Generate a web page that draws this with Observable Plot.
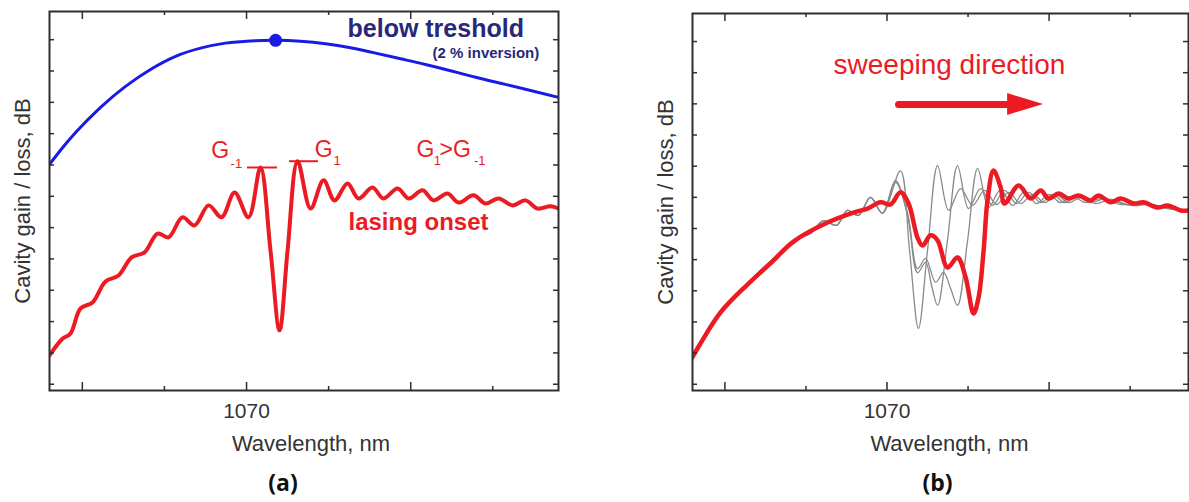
<!DOCTYPE html>
<html>
<head>
<meta charset="utf-8">
<script src="https://cdn.jsdelivr.net/npm/d3@7"></script>
<script src="https://cdn.jsdelivr.net/npm/@observablehq/plot@0.6"></script>
<style>
  html, body { margin: 0; padding: 0; background: #fff; overflow: hidden; }
  #page { position: relative; width: 1189px; height: 502px; overflow: hidden; }
  .panel { position: absolute; top: 0; width: 600px; height: 502px; }
</style>
</head>
<body>
<div id="page">
  <div id="panelA" class="panel" style="left:0"></div>
  <div id="panelB" class="panel" style="left:600px"></div>
</div>
<script>
// ---- axes ----
const xMajorTicks = [1060, 1070, 1080];
const xMinorTicks = [1065, 1075, 1085];
const yTicks = [0, 1, 2, 3, 4, 5, 6, 7, 8, 9, 10, 11];
const xTickLabels = [1070];
const xLabel = "Wavelength, nm";
const yLabel = "Cavity gain / loss, dB";

// ---- panel (a): gain below threshold (wavelength nm, gain) ----
const belowThreshold = [
  [1058.00, 7.02], [1058.67, 7.47], [1059.59, 8.04], [1061.11, 8.84], [1062.63, 9.51],
  [1064.15, 10.05], [1065.68, 10.47], [1067.20, 10.73], [1068.72, 10.89], [1070.24, 10.96],
  [1071.77, 10.98], [1073.29, 10.95], [1074.81, 10.87], [1076.33, 10.74], [1077.86, 10.57],
  [1079.38, 10.39], [1080.90, 10.21], [1082.42, 10.01], [1083.95, 9.80], [1085.47, 9.61],
  [1086.99, 9.42], [1089.00, 9.16]
];

// ---- panel (a): gain at lasing onset ----
const lasingOnset = [
  [1058.00, 0.92], [1058.79, 1.45], [1059.28, 1.62], [1059.89, 2.42], [1060.62, 2.61],
  [1061.41, 3.28], [1062.20, 3.47], [1063.00, 4.05], [1063.79, 4.21], [1064.58, 4.81],
  [1065.25, 4.69], [1066.10, 5.33], [1066.83, 5.07], [1067.69, 5.71], [1068.48, 5.33],
  [1069.27, 6.12], [1070.12, 5.33], [1070.85, 6.92], [1071.46, 4.27], [1072.01, 1.72],
  [1072.50, 4.27], [1073.11, 7.12], [1073.90, 5.61], [1074.69, 6.51], [1075.36, 5.87],
  [1076.15, 6.41], [1076.82, 5.93], [1077.67, 6.28], [1078.34, 5.93], [1079.20, 6.25],
  [1079.87, 5.93], [1080.72, 6.19], [1081.39, 5.87], [1082.24, 6.09], [1082.91, 5.80],
  [1083.82, 6.03], [1084.56, 5.77], [1085.35, 5.93], [1086.20, 5.71], [1086.99, 5.87],
  [1087.72, 5.61], [1088.51, 5.68], [1089.00, 5.61]
];

// ---- panel (b): earlier sweep positions (thin grey) ----
const sweepCommon = [
  [1057.99, 0.86], [1059.72, 2.34], [1061.39, 3.23], [1062.81, 3.95], [1063.73, 4.33],
  [1064.48, 4.68], [1065.28, 4.84], [1066.08, 5.25], [1066.88, 5.10], [1067.56, 5.58],
  [1068.24, 5.42], [1068.98, 6.00], [1069.72, 5.49]
];
const sweepStep1 = [
  [1070.83, 6.85], [1071.39, 4.30], [1071.94, 1.79], [1072.50, 4.30], [1073.12, 7.02],
  [1073.80, 5.58], [1074.54, 6.28], [1075.28, 5.74], [1076.02, 6.22], [1076.76, 5.77],
  [1077.50, 6.16], [1078.24, 5.80], [1078.98, 6.09], [1079.72, 5.83], [1080.46, 6.06],
  [1081.20, 5.83], [1081.94, 5.99], [1082.87, 5.80], [1083.80, 5.93], [1085.03, 5.74],
  [1086.27, 5.77], [1087.50, 5.64], [1088.60, 5.58]
];
const sweepStep2 = [
  [1070.52, 6.54], [1071.27, 5.41], [1071.88, 3.58], [1072.38, 3.91], [1072.75, 3.17],
  [1073.12, 2.53], [1073.73, 4.61], [1074.35, 7.02], [1075.03, 5.64], [1075.77, 6.28],
  [1076.51, 5.74], [1077.25, 6.22], [1077.99, 5.80], [1078.73, 6.16], [1079.48, 5.83],
  [1080.22, 6.09], [1080.96, 5.83], [1081.70, 6.03], [1082.56, 5.83], [1083.49, 5.96],
  [1084.72, 5.77], [1085.96, 5.80], [1087.19, 5.67], [1088.60, 5.55]
];
const sweepStep3 = [
  [1070.52, 6.48], [1071.27, 5.48], [1071.88, 3.71], [1072.38, 4.04], [1073.00, 3.27],
  [1073.49, 3.59], [1073.92, 3.08], [1074.35, 2.53], [1074.97, 4.61], [1075.59, 6.93],
  [1076.27, 5.68], [1077.01, 6.25], [1077.75, 5.74], [1078.49, 6.19], [1079.23, 5.80],
  [1079.97, 6.09], [1080.71, 5.83], [1081.45, 6.03], [1082.25, 5.83], [1083.18, 5.96],
  [1084.41, 5.77], [1085.65, 5.80], [1086.88, 5.67], [1088.60, 5.55]
];

// ---- panel (b): current sweep position (thick red) ----
const sweepCurrent = [
  [1057.99, 0.86], [1058.49, 1.31], [1059.72, 2.30], [1061.39, 3.20], [1062.81, 3.88],
  [1064.23, 4.58], [1066.33, 5.19], [1067.93, 5.51], [1068.80, 5.64], [1069.60, 5.84],
  [1070.22, 5.77], [1070.83, 6.16], [1071.33, 5.80], [1071.88, 4.71], [1072.19, 4.45],
  [1072.69, 4.78], [1073.12, 4.62], [1073.73, 3.75], [1074.35, 4.07], [1074.85, 3.43],
  [1075.34, 2.27], [1075.65, 2.79], [1075.96, 4.29], [1076.20, 5.90], [1076.57, 6.86],
  [1077.01, 6.32], [1077.25, 5.80], [1078.12, 6.38], [1078.86, 5.96], [1079.48, 6.22],
  [1079.97, 5.96], [1080.59, 6.12], [1081.20, 5.96], [1081.82, 6.06], [1082.56, 5.90],
  [1083.05, 6.06], [1083.80, 5.84], [1084.41, 5.96], [1085.22, 5.80], [1085.83, 5.84],
  [1086.70, 5.67], [1087.31, 5.74], [1088.12, 5.58], [1088.60, 5.58]
];

// ---- colours & fonts ----
const AXIS = "#2e2e2e";
const TEXT = "#333333";
const RED = "#ec1b23";
const BLUE = "#1a1ae6";
const NAVY = "#28287a";
const GREY = "#8a8a8a";
const SANS = "Liberation Sans, Arial, sans-serif";
const CAPTION_FONT = "Open Sans, Noto Sans, sans-serif";

const px = d => d[0];
const py = d => d[1];
const peakNear = (pts, lo, hi) => d3.greatest(pts.filter(p => p[0] >= lo && p[0] <= hi), p => p[1]);

// box with inward ticks on all four sides, tick label, axis titles and caption
function boxMarks(innerW, innerH, caption, xLabelShift, captionShift) {
  const tick = {stroke: AXIS, strokeWidth: 1.5};
  return [
    Plot.tickX(xMajorTicks, {x: d => d, insetTop: innerH - 8, ...tick}),
    Plot.tickX(xMajorTicks, {x: d => d, insetBottom: innerH - 8, ...tick}),
    Plot.tickX(xMinorTicks, {x: d => d, insetTop: innerH - 4, ...tick}),
    Plot.tickX(xMinorTicks, {x: d => d, insetBottom: innerH - 4, ...tick}),
    Plot.tickY(yTicks, {y: d => d, insetRight: innerW - 5, ...tick}),
    Plot.tickY(yTicks, {y: d => d, insetLeft: innerW - 5, ...tick}),
    Plot.frame({stroke: AXIS, strokeWidth: 2}),
    Plot.text(xTickLabels, {x: d => d, text: d => String(d), frameAnchor: "bottom", lineAnchor: "bottom", dy: 27, fontSize: 21, fill: TEXT}),
    Plot.text([xLabel], {text: d => d, frameAnchor: "bottom", textAnchor: "middle", lineAnchor: "bottom", dx: xLabelShift, dy: 60, fontSize: 22, fill: TEXT}),
    Plot.text([yLabel], {text: d => d, frameAnchor: "left", textAnchor: "middle", lineAnchor: "middle", rotate: -90, dx: -27, fontSize: 22, fill: TEXT}),
    Plot.text([caption], {text: d => d, frameAnchor: "bottom", textAnchor: "middle", lineAnchor: "bottom", dx: captionShift, dy: 100, fontSize: 23, fontWeight: "bold", fontFamily: CAPTION_FONT, fill: "#111"})
  ];
}

// ---------------- panel (a) ----------------
const gMinus = peakNear(lasingOnset, 1070.5, 1071.2);
const gPlus = peakNear(lasingOnset, 1072.8, 1073.5);
const blueTop = d3.greatest(belowThreshold, py);
const G = {textAnchor: "start", lineAnchor: "bottom", fontSize: 23, fill: RED};
const SUB = {textAnchor: "start", lineAnchor: "bottom", fontSize: 13, fill: RED};

const chartA = Plot.plot({
  width: 600, height: 502,
  marginLeft: 49, marginRight: 42, marginTop: 11, marginBottom: 112,
  x: {domain: [1058, 1089], axis: null},
  y: {domain: [-0.2, 11.9], axis: null},
  style: {fontFamily: SANS, background: "transparent", overflow: "visible"},
  marks: [
    Plot.line(belowThreshold, {x: px, y: py, curve: "natural", stroke: BLUE, strokeWidth: 3, clip: true}),
    Plot.dot([blueTop], {x: px, y: py, r: 6.5, fill: BLUE, stroke: "none"}),
    Plot.line(lasingOnset, {x: px, y: py, curve: "catmull-rom", stroke: RED, strokeWidth: 4, clip: true}),
    // G-1 and G1 level markers
    Plot.ruleY([gMinus], {y: py, x1: 1070.06, x2: 1071.89, stroke: RED, strokeWidth: 2}),
    Plot.ruleY([gPlus], {y: py, x1: 1072.62, x2: 1074.38, stroke: RED, strokeWidth: 2}),
    Plot.text(["G"], {text: d => d, x: 1067.85, y: 7.21, ...G}),
    Plot.text(["-1"], {text: d => d, x: 1069.03, y: 6.89, ...SUB}),
    Plot.text(["G"], {text: d => d, x: 1074.15, y: 7.24, ...G}),
    Plot.text(["1"], {text: d => d, x: 1075.30, y: 6.99, ...SUB}),
    Plot.text(["G"], {text: d => d, x: 1080.35, y: 7.24, ...G}),
    Plot.text(["1"], {text: d => d, x: 1081.40, y: 6.99, ...SUB}),
    Plot.text([">G"], {text: d => d, x: 1081.75, y: 7.24, ...G}),
    Plot.text(["-1"], {text: d => d, x: 1083.85, y: 6.99, ...SUB}),
    Plot.text(["lasing onset"], {text: d => d, x: 1076.21, y: 4.94, textAnchor: "start", lineAnchor: "bottom", fontSize: 24, fontWeight: "bold", fill: RED}),
    Plot.text(["below treshold"], {text: d => d, x: 1076.15, y: 11.08, textAnchor: "start", lineAnchor: "bottom", fontSize: 25, fontWeight: "bold", fill: NAVY}),
    Plot.text(["(2 % inversion)"], {text: d => d, x: 1081.33, y: 10.41, textAnchor: "start", lineAnchor: "bottom", fontSize: 15, fontWeight: "bold", fill: NAVY}),
    ...boxMarks(509, 379, "(a)", 7, -21)
  ]
});
document.getElementById("panelA").append(chartA);

// ---------------- panel (b) ----------------
const sweepArrowShaft = [[1070.71, 8.98], [1077.70, 8.98]];
const sweepArrowHead = [[1077.44, 8.63, 9.33], [1079.66, 8.98, 8.98]];

const chartB = Plot.plot({
  width: 600, height: 502,
  marginLeft: 92, marginRight: 12, marginTop: 13, marginBottom: 112,
  x: {domain: [1058, 1088.6], axis: null},
  y: {domain: [-0.2, 11.9], axis: null},
  style: {fontFamily: SANS, background: "transparent", overflow: "visible"},
  marks: [
    ...[sweepStep1, sweepStep2, sweepStep3].map(tail =>
      Plot.line(sweepCommon.concat(tail), {x: px, y: py, curve: "catmull-rom", stroke: GREY, strokeWidth: 1.3, clip: true})
    ),
    Plot.line(sweepCurrent, {x: px, y: py, curve: "catmull-rom", stroke: RED, strokeWidth: 4.5, clip: true}),
    Plot.text(["sweeping direction"], {text: d => d, x: 1066.70, y: 9.97, textAnchor: "start", lineAnchor: "bottom", fontSize: 28, fill: RED}),
    Plot.line(sweepArrowShaft, {x: px, y: py, stroke: RED, strokeWidth: 7, strokeLinecap: "round"}),
    Plot.areaY(sweepArrowHead, {x: d => d[0], y1: d => d[1], y2: d => d[2], fill: RED}),
    ...boxMarks(496, 377, "(b)", 9, -3)
  ]
});
document.getElementById("panelB").append(chartB);
</script>
</body>
</html>
